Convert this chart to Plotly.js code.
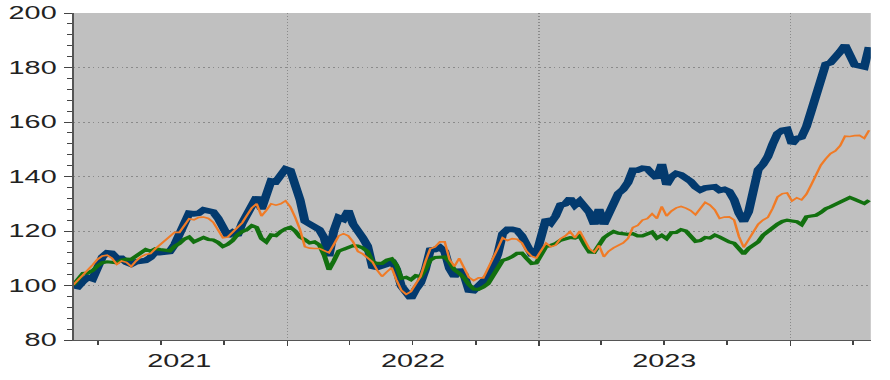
<!DOCTYPE html>
<html><head><meta charset="utf-8">
<script src="https://cdn.plot.ly/plotly-3.0.1.min.js"></script>
<style>
html,body{margin:0;padding:0;background:#fff;overflow:hidden;}
#wrap{width:890px;height:380px;overflow:hidden;}
#chart{width:556px;height:380px;transform:scaleX(1.6007);transform-origin:0 0;}
</style></head><body><div id="wrap"><div id="chart"></div></div>
<script>
const dates = [
"2021-02-24","2021-03-03","2021-03-10","2021-03-17","2021-03-24","2021-03-31","2021-04-07","2021-04-14","2021-04-21","2021-04-28",
"2021-05-05","2021-05-12","2021-05-19","2021-05-26","2021-06-02","2021-06-09","2021-06-16","2021-06-23","2021-06-30","2021-07-07",
"2021-07-14","2021-07-21","2021-07-28","2021-08-04","2021-08-11","2021-08-18","2021-08-25","2021-09-01","2021-09-08","2021-09-15",
"2021-09-22","2021-09-29","2021-10-06","2021-10-13","2021-10-20","2021-10-27","2021-11-03","2021-11-10","2021-11-17","2021-11-24",
"2021-12-01","2021-12-08","2021-12-15","2021-12-22","2021-12-29",
"2022-01-05","2022-01-12","2022-01-19","2022-01-26","2022-02-02","2022-02-09","2022-02-16","2022-02-23","2022-03-02","2022-03-09",
"2022-03-16","2022-03-23","2022-03-30","2022-04-06","2022-04-13","2022-04-20","2022-04-27","2022-05-04","2022-05-11","2022-05-18",
"2022-05-25","2022-06-01","2022-06-08","2022-06-15","2022-06-22","2022-06-29","2022-07-06","2022-07-13","2022-07-20","2022-07-27",
"2022-08-03","2022-08-10","2022-08-17","2022-08-24","2022-08-31","2022-09-07","2022-09-14","2022-09-21","2022-09-28","2022-10-05",
"2022-10-12","2022-10-19","2022-10-26","2022-11-02","2022-11-09","2022-11-16","2022-11-23","2022-11-30","2022-12-07","2022-12-14",
"2022-12-21","2022-12-28",
"2023-01-04","2023-01-11","2023-01-18","2023-01-25","2023-02-01","2023-02-08","2023-02-15","2023-02-22","2023-03-01","2023-03-08",
"2023-03-15","2023-03-22","2023-03-29","2023-04-05","2023-04-12","2023-04-19","2023-04-26","2023-05-03","2023-05-10","2023-05-17",
"2023-05-24","2023-05-31","2023-06-07","2023-06-14","2023-06-21","2023-06-28","2023-07-05","2023-07-12","2023-07-19","2023-07-26",
"2023-08-02","2023-08-09","2023-08-16","2023-08-23","2023-08-30","2023-09-06","2023-09-13","2023-09-20","2023-09-27","2023-10-04",
"2023-10-11","2023-10-18","2023-10-25","2023-11-01","2023-11-08","2023-11-15","2023-11-22","2023-11-29","2023-12-06","2023-12-13",
"2023-12-20","2023-12-27",
"2024-01-03","2024-01-10","2024-01-17","2024-01-24","2024-01-31","2024-02-07","2024-02-14","2024-02-21","2024-02-28","2024-03-06",
"2024-03-13","2024-03-20","2024-03-27","2024-04-03","2024-04-10","2024-04-17","2024-04-24"
];

const navySeries = [100,99.6,101.5,103,102.4,106,110.5,112,111.8,110,
110,108.5,107.8,108.7,108.7,109.2,110.3,112.4,112.1,112.5,
112.5,115,118.5,122,126.5,126.3,126.5,127.8,127.6,127,
124.7,120.5,118.2,119.5,118.3,122.8,126.5,130.5,132.5,128,
134.5,138.4,138.1,141,142.8,142.2,137.5,131.5,123.6,122.5,
121.8,120.5,117.5,110.8,120,125,124.3,127.5,122.5,119.2,
117.5,114.5,107,106.6,107,107.8,109.2,106,99.8,98,
95.3,98.6,101,106,113,113.2,114,112.5,106.2,103.3,
105.8,104,98.3,98.1,99.8,101.2,103.3,106.8,111.5,119,
120.6,120.6,120.2,118.2,114.5,111.6,111.5,119,124.3,123,
125.5,129.5,130,132,129.5,131,129,126.8,122.5,128,
122.5,126,130,133.8,135.3,137.8,142.3,142.3,143,142.8,
141,139.4,144.5,137,139.8,141.1,140.6,139.6,138.2,136.2,
135,135.8,136.2,136.2,134.9,135.3,134.5,131.5,126.5,123.5,
127,136,142.5,144.5,147.3,151.8,155.7,157,157.3,152,
154,154.5,158.3,164,169.8,175.7,181.2,181.8,183.4,185.8,
188.2,185,181,180.6,180.2,187.5];

const orangeSeries = [100.2,102,103.6,105.4,107.6,109.6,110.8,111.1,110,107.8,
109,108.5,107,109,110.5,111.4,111.7,113.5,115,116.5,
117.9,119.5,119.5,122,124.5,124.1,125,125.1,124.6,123.2,
120.5,117.5,117.8,119.6,121,123,125.8,128.5,130,125.5,
127.6,130,129.5,130,131.1,128.8,125,120.5,114.2,113.7,
113.6,113.6,112.8,112,115,118.2,119,118.2,116,112.5,
111.6,110.2,108.7,105.6,103.3,105,106.5,102,98.3,96.8,
97.8,100.6,103.3,108.8,113.5,114.2,116,116,109.5,107,
110,106.5,103,101.8,102.8,102.8,106,110,113.6,117.5,
116.5,117.2,117,115.6,112.5,110.8,110.1,112.8,115.6,114.2,
114.8,117.2,118.2,119.8,117.5,120,117,113.5,112.2,114.7,
110.5,112.6,113.8,114.6,115.6,117.3,121.3,122,124,124.5,
126.3,124.6,129,125.5,127.3,128.5,129,128.4,127.5,126,
128.5,130.5,129.5,127.8,124.6,125.1,125.2,124.1,118,114,
116.8,119.8,122.5,124,125,128.3,132.5,133.7,134,131,
132.2,131.4,133.5,137,141,144.2,146.5,148.4,149.4,151.3,
154.8,154.7,155,155.1,154,157];

const greenSeries = [100.2,102.6,104.4,104.6,105.5,107.2,108.4,108.7,108.5,108.3,
109.3,109.7,109.6,110.8,112.2,113.2,112.6,113.5,113.2,113,
112.7,114.4,115.4,117,117.8,116,116.8,117.6,116.9,116.7,
115.8,114.3,115.1,116.5,118.6,119.8,120.5,122,121.3,117.3,
116,118.6,118.3,119.8,120.8,121.4,120,117.8,116.8,115.6,
116,114.9,111.2,105.8,109,112.6,113.3,113.9,114.6,114.5,
113.8,112.5,108.7,108.1,108.1,109.3,109.8,107.5,102.6,103,
102.1,103.6,103.3,106,109.3,110.3,110.5,110.5,108.6,105.8,
104.5,102.8,100.4,98.7,98.6,99.4,100.7,103.5,106.5,109.2,
109.8,110.6,111.8,111.9,109.9,108.1,108.3,111.5,114.3,114.7,
115.4,116.6,117,117.6,117.4,118.2,115,112.3,112.2,115.2,
117.5,118.8,119.8,119.2,119.1,118.8,119,118.2,118.2,118.9,
119.6,117.4,118.4,117.2,119.4,119.5,120.5,120,118.2,116.2,
116.5,117.6,117.4,118.5,117.8,116.7,116,115.5,113.5,111.6,
113.6,114.8,116,118.4,119.9,121.3,122.5,123.5,124,123.7,
123.4,122.3,125.2,125.5,125.8,126.8,128.2,128.9,129.8,130.8,
131.4,132.3,131.6,130.8,130.1,131.3];

// Year labels: centred on the visible part of each year
const yearLabelDates = ["2021-07-28", "2022-07-01", "2023-07-02"];
const yearLabels = ["2021", "2022", "2023"];

const xRange = ['2021-02-24 09:00', '2024-04-26 10:00'];

const traces = [
  {x: dates, y: navySeries, type: 'scatter', mode: 'lines', name: 'Series 1',
   line: {color: '#033a6e', width: 5.6}},
  {x: dates, y: greenSeries, type: 'scatter', mode: 'lines', name: 'Series 3',
   line: {color: '#12700f', width: 3.2}},
  {x: dates, y: orangeSeries, type: 'scatter', mode: 'lines', name: 'Series 2',
   line: {color: '#f07b26', width: 1.6}}
];

const annotations = yearLabels.map((t, i) => ({
  x: yearLabelDates[i], xref: 'x', y: 0, yref: 'paper',
  yanchor: 'top', xanchor: 'center', yshift: -9,
  text: t, showarrow: false,
  font: {family: 'Liberation Sans, Arial, sans-serif', size: 18, color: '#222'}
}));

const layout = {
  width: 556, height: 380,
  margin: {l: 46, r: 12, t: 13, b: 40, pad: 0},
  paper_bgcolor: '#ffffff',
  plot_bgcolor: '#c0c0c0',
  showlegend: false,
  font: {family: 'Liberation Sans, Arial, sans-serif', size: 18, color: '#222'},
  annotations: annotations,
  xaxis: {
    type: 'date',
    range: xRange,
    tickmode: 'linear', tick0: '2021-01-01', dtick: 'M12',
    showticklabels: false,
    ticks: 'outside', ticklen: 5, tickwidth: 1, tickcolor: '#444',
    showline: true, linecolor: '#555', linewidth: 1,
    showgrid: true, gridcolor: '#8a8a8a', griddash: '1px,2px', gridwidth: 1,
    zeroline: false,
    minor: {tick0: '2021-01-01', dtick: 'M3', ticks: 'outside', ticklen: 3.5, tickcolor: '#444', showgrid: false}
  },
  yaxis: {
    range: [80, 200], tickmode: 'linear', tick0: 80, dtick: 20,
    ticks: 'outside', ticklen: 5, tickwidth: 1, tickcolor: '#444',
    showline: true, linecolor: '#555', linewidth: 1,
    showgrid: true, gridcolor: '#8a8a8a', griddash: '1px,2px', gridwidth: 1,
    zeroline: false,
    minor: {tick0: 80, dtick: 4, ticks: 'outside', ticklen: 3, tickcolor: '#444', showgrid: false},
    ticklabelstandoff: 1,
    tickfont: {size: 18, color: '#222'}
  }
};

Plotly.newPlot('chart', traces, layout, {staticPlot: true, displayModeBar: false});
</script>
</body></html>
